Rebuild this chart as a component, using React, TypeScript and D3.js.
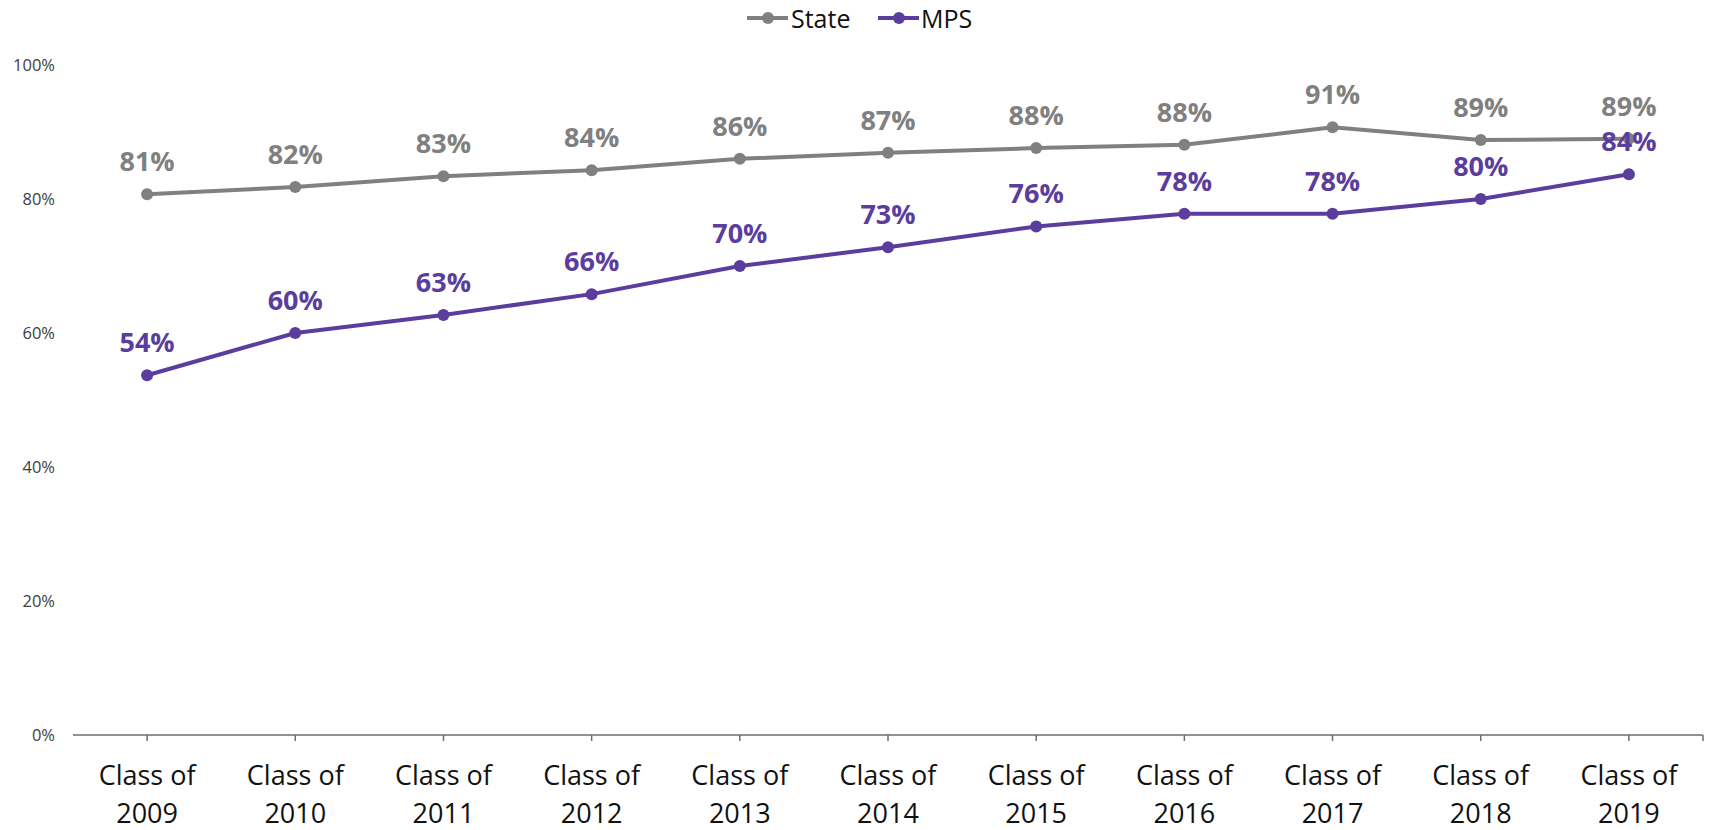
import React from "react";
import * as d3 from "d3";

const categories = ["2009","2010","2011","2012","2013","2014","2015","2016","2017","2018","2019"];
const stateValues = [0.807,0.818,0.834,0.843,0.860,0.869,0.876,0.881,0.907,0.888,0.890];
const mpsValues = [0.537,0.600,0.627,0.658,0.700,0.728,0.759,0.778,0.778,0.800,0.837];
const yTicks = [0,0.2,0.4,0.6,0.8,1.0];

const seriesList = [
  { name: "State", values: stateValues, color: "#808080" },
  { name: "MPS", values: mpsValues, color: "#5b3d9e" },
];

const W = 1709, H = 830;
const FONT = "'Open Sans', sans-serif";

export default function App() {
  const x = d3.scaleBand<string>().domain(categories).range([73, 1703]);
  const y = d3.scaleLinear().domain([0, 1]).range([735, 65]);
  const cx = (c: string) => (x(c) as number) + x.bandwidth() / 2;
  const pct = d3.format(".0%");
  const line = (vals: number[]) =>
    d3.line<number>().x((_, i) => cx(categories[i])).y((v) => y(v))(vals) as string;

  return (
    <svg width={W} height={H} style={{ position: "absolute", left: 0, top: 0, background: "#fff" }}>
      {/* y tick labels */}
      {yTicks.map((t) => (
        <text key={t} x={55} y={y(t)} dy="0.35em" textAnchor="end" fontFamily={FONT} fontSize={16.5} fill="#404040">
          {pct(t)}
        </text>
      ))}
      {/* x axis */}
      <line x1={73} x2={1703} y1={y(0)} y2={y(0)} stroke="#6e6e6e" strokeWidth={1.5} />
      {categories.map((c) => (
        <line key={"t" + c} x1={cx(c)} x2={cx(c)} y1={y(0)} y2={y(0) + 6} stroke="#6e6e6e" strokeWidth={1.5} />
      ))}
      <line x1={1703} x2={1703} y1={y(0)} y2={y(0) + 6} stroke="#6e6e6e" strokeWidth={1.5} />
      {categories.map((c) => (
        <text key={"l" + c} x={cx(c)} textAnchor="middle" fontFamily={FONT} fontSize={27} fill="#111">
          <tspan x={cx(c)} y={785}>Class of</tspan>
          <tspan x={cx(c)} y={823}>{c}</tspan>
        </text>
      ))}
      {/* series */}
      {seriesList.map((s) => (
        <g key={s.name}>
          <path d={line(s.values)} fill="none" stroke={s.color} strokeWidth={4} strokeLinejoin="round" />
          {s.values.map((v, i) => (
            <circle key={i} cx={cx(categories[i])} cy={y(v)} r={6} fill={s.color} />
          ))}
        </g>
      ))}
      {seriesList.map((s) => (
        <g key={"lab" + s.name}>
          {s.values.map((v, i) => (
            <text key={i} x={cx(categories[i])} y={y(v) - 23} textAnchor="middle" fontFamily={FONT}
              fontWeight="bold" fontSize={27} fill={s.color}>
              {pct(Math.round(v * 100) / 100)}
            </text>
          ))}
        </g>
      ))}
      {/* legend */}
      <g>
        <line x1={747} x2={788} y1={18} y2={18} stroke="#808080" strokeWidth={4} />
        <circle cx={768} cy={18} r={6} fill="#808080" />
        <text x={791} y={27.5} fontFamily={FONT} fontSize={25} fill="#111">State</text>
        <line x1={878} x2={919} y1={18} y2={18} stroke="#5b3d9e" strokeWidth={4} />
        <circle cx={899} cy={18} r={6} fill="#5b3d9e" />
        <text x={921} y={27.5} fontFamily={FONT} fontSize={25} fill="#111">MPS</text>
      </g>
    </svg>
  );
}
